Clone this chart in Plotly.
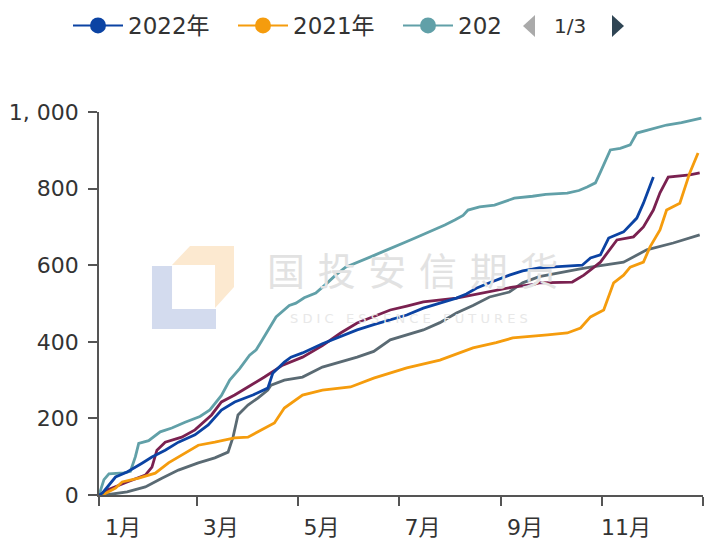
import pandas as pd
import plotly.graph_objects as go

# day-of-year offsets and cumulative values
BASE = pd.Timestamp("2021-01-01")

days_2022 = [0, 2, 10, 17, 26, 32, 40, 48, 58, 66, 74, 82, 93, 102, 105, 112, 116, 123,
             135, 146, 156, 166, 176, 186, 196, 206, 216, 222, 228, 236, 248, 256, 266,
             280, 292, 297, 303, 308, 317, 325, 329, 335]
vals_2022 = [0, 5, 47, 60, 83, 99, 117, 138, 157, 183, 222, 243, 261, 279, 318, 347, 360, 371,
             395, 413, 431, 445, 457, 470, 488, 500, 514, 525, 540, 554, 574, 585, 593,
             597, 600, 619, 627, 671, 687, 723, 762, 830]

days_2021 = [0, 2, 10, 14, 24, 34, 42, 50, 60, 70, 82, 90, 98, 106, 112, 123, 135, 152,
             166, 186, 206, 226, 240, 250, 271, 283, 291, 297, 305, 311, 317, 321, 329,
             333, 339, 343, 351, 357, 362]
vals_2021 = [0, 0, 18, 34, 44, 57, 84, 104, 130, 138, 149, 151, 170, 188, 227, 261, 274, 282,
             305, 332, 352, 384, 398, 410, 418, 423, 436, 465, 483, 554, 574, 595, 608,
             648, 692, 744, 762, 841, 893]

days_2020 = [0, 3, 6, 15, 19, 22, 24, 30, 37, 44, 52, 61, 67, 74, 79, 85, 91, 95, 98, 104,
             107, 115, 119, 124, 131, 137, 143, 149, 155, 161, 167, 173, 179, 185, 191, 197,
             203, 209, 215, 220, 223, 230, 239, 251, 262, 270, 283, 290, 295, 300, 303, 306,
             309, 315, 321, 325, 333, 343, 352, 358, 364]
vals_2020 = [0, 40, 55, 58, 62, 100, 135, 142, 165, 175, 190, 205, 222, 260, 300, 330, 365,
             379, 400, 445, 465, 495, 501, 515, 527, 550, 574, 595, 605, 615, 627, 638, 648,
             660, 671, 682, 692, 705, 718, 730, 744, 752, 757, 775, 780, 785, 788, 795, 804,
             815, 843, 870, 901, 905, 914, 945, 955, 966, 972, 978, 984]

days_2019 = [0, 5, 17, 28, 32, 35, 40, 50, 58, 68, 74, 82, 90, 100, 111, 123, 135, 146, 156,
             166, 176, 186, 196, 216, 236, 248, 250, 262, 266, 286, 293, 303, 313, 323, 329,
             335, 339, 344, 357, 363]
vals_2019 = [0, 13, 34, 52, 73, 117, 138, 151, 170, 209, 243, 261, 282, 308, 339, 360, 390,
             423, 449, 465, 483, 493, 504, 514, 530, 540, 543, 549, 554, 556, 574, 608, 666,
             674, 700, 744, 789, 830, 836, 841]

days_2018 = [0, 4, 17, 28, 38, 48, 60, 70, 78, 81, 84, 90, 96, 102, 104, 112, 123, 135, 156,
             166, 176, 186, 196, 206, 216, 226, 236, 248, 256, 266, 277, 290, 297, 317, 331,
             347, 363]
vals_2018 = [0, 0, 8, 21, 44, 65, 84, 97, 112, 151, 209, 235, 253, 274, 287, 300, 308, 334,
             360, 375, 405, 418, 431, 450, 475, 495, 517, 530, 554, 570, 580, 590, 595, 608,
             640, 658, 679]

month_ticks = ["2021-01-01", "2021-03-01", "2021-05-01", "2021-07-01", "2021-09-01",
               "2021-11-01", "2022-01-01"]
month_labels = ["1月", "3月", "5月", "7月", "9月", "11月", ""]
y_ticks = [0, 200, 400, 600, 800, 1000]
y_labels = ["0", "200", "400", "600", "800", "1, 000"]

COLORS = {
    "2022年": "#0b43a3",
    "2021年": "#f59c0d",
    "2020年": "#61a0a8",
    "2019年": "#7a2150",
    "2018年": "#5a6a73",
}


def to_dates(days):
    return BASE + pd.to_timedelta(days, unit="D")


fig = go.Figure()

# draw order: bottom to top
for name, d, v in [("2018年", days_2018, vals_2018),
                   ("2019年", days_2019, vals_2019),
                   ("2020年", days_2020, vals_2020),
                   ("2021年", days_2021, vals_2021),
                   ("2022年", days_2022, vals_2022)]:
    fig.add_trace(go.Scatter(x=to_dates(d), y=v, mode="lines", name=name,
                             line=dict(color=COLORS[name], width=2.8),
                             showlegend=False))

# legend proxies (first page of the paged legend)
for label, key in [("2022年", "2022年"), ("2021年", "2021年"), ("202", "2020年")]:
    fig.add_trace(go.Scatter(x=[None], y=[None], mode="lines+markers", name=label,
                             line=dict(color=COLORS[key], width=2),
                             marker=dict(size=16, color=COLORS[key])))

fig.update_layout(
    width=705, height=539,
    margin=dict(l=99, r=2, t=112, b=44, autoexpand=False),
    paper_bgcolor="white", plot_bgcolor="white",
    font=dict(family="DejaVu Sans, Noto Sans CJK SC", size=22, color="#333333"),
    legend=dict(orientation="h", xref="container", yref="container",
                x=68 / 705, y=1 - 4 / 539, xanchor="left", yanchor="top",
                font=dict(size=23, color="#333333"), itemwidth=50,
                entrywidth=100, traceorder="normal", bgcolor="rgba(0,0,0,0)"),
)

fig.update_xaxes(
    type="date", range=[BASE, BASE + pd.Timedelta(days=365)],
    tickvals=month_ticks, ticktext=month_labels,
    ticks="outside", ticklen=9, tickwidth=1.5, tickcolor="#555555",
    showline=True, linecolor="#555555", linewidth=1.8,
    showgrid=False, zeroline=False, ticklabelshift=24, ticklabelstandoff=3,
)
fig.update_yaxes(
    range=[0, 1000], tickvals=y_ticks, ticktext=y_labels,
    ticks="outside", ticklen=9, tickwidth=1.5, tickcolor="#555555",
    showline=True, linecolor="#555555", linewidth=1.8,
    showgrid=False, zeroline=False, ticklabelstandoff=5,
)


# pixel -> paper helpers for the watermark and legend pager
def px(x):
    return (x - 99) / 604


def py(y):
    return (495 - y) / 383


def poly(pts):
    return "M " + " L ".join(f"{px(a):.4f},{py(b):.4f}" for a, b in pts) + " Z"


# watermark logo
fig.add_shape(type="path", xref="paper", yref="paper", layer="below",
              path=poly([(152, 266), (172, 266), (172, 309), (216, 309), (216, 329), (152, 329)]),
              fillcolor="#d3dbee", line=dict(width=0))
fig.add_shape(type="path", xref="paper", yref="paper", layer="below",
              path=poly([(172, 265), (190, 246), (234, 246), (234, 287), (215, 308), (215, 265)]),
              fillcolor="#fce9d0", line=dict(width=0))
fig.add_annotation(text="\u2004".join("国投安信期货"), xref="paper", yref="paper",
                   x=px(412), y=py(268), showarrow=False, xanchor="center", yanchor="middle",
                   font=dict(family="Noto Sans CJK SC", size=38, color="#e2e2e2"))
fig.add_annotation(text="S D I C   E S S E N C E   F U T U R E S", xref="paper", yref="paper",
                   x=px(409), y=py(318), showarrow=False, xanchor="center", yanchor="middle",
                   font=dict(family="DejaVu Sans", size=13, color="#e8e8e8"))

# legend pager
fig.add_shape(type="path", xref="paper", yref="paper",
              path=poly([(535, 15), (523, 26), (535, 37)]),
              fillcolor="#aaaaaa", line=dict(width=0))
fig.add_shape(type="path", xref="paper", yref="paper",
              path=poly([(612, 15), (624, 26), (612, 37)]),
              fillcolor="#2f4554", line=dict(width=0))
fig.add_annotation(text="1/3", xref="paper", yref="paper", x=px(570), y=py(26),
                   xanchor="center", yanchor="middle",
                   showarrow=False, font=dict(size=20, color="#333333"))

fig.write_html("out.html", config={"displayModeBar": False},
               post_script="document.body.style.margin='0px';"
                           "document.body.style.overflow='hidden';")
